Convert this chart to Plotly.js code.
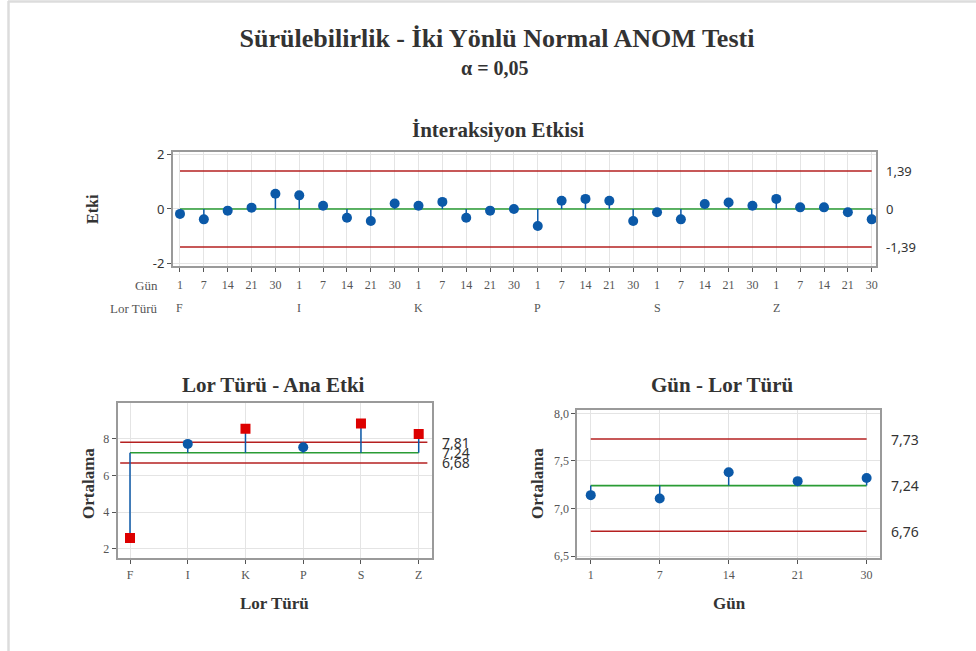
<!DOCTYPE html>
<html>
<head>
<meta charset="utf-8">
<script src="https://cdn.plot.ly/plotly-3.0.1.min.js"></script>
<style>
  html, body { margin: 0; padding: 0; background: #fff; }
  #chart { width: 976px; height: 651px; }
</style>
</head>
<body>
<div id="chart"></div>
<script>
// ---- data ----
const lorTypes = ['F', 'I', 'K', 'P', 'S', 'Z'];
const days = [1, 7, 14, 21, 30];

// interaction effects, ordered Lor Türü x Gün
const interactionF = [-0.18, -0.38, -0.06, 0.05, 0.56];
const interactionI = [0.50, 0.12, -0.32, -0.44, 0.20];
const interactionK = [0.12, 0.26, -0.32, -0.06, 0.00];
const interactionP = [-0.62, 0.30, 0.37, 0.30, -0.44];
const interactionS = [-0.12, -0.38, 0.18, 0.24, 0.12];
const interactionZ = [0.37, 0.06, 0.06, -0.12, -0.38];
const interactionLimits = [-1.39, 0, 1.39];

// Lor Türü main effect means and decision limits
const lorMeans = [2.60, 7.72, 8.55, 7.54, 8.83, 8.26];
const lorLimits = [6.68, 7.24, 7.81];

// Gün means and decision limits
const dayMeans = [7.14, 7.105, 7.38, 7.287, 7.32];
const dayLimits = [6.76, 7.24, 7.73];

// ---- styling ----
const W = 976, H = 651;
const SERIF = 'Liberation Serif, Times New Roman, serif';
const SANS = 'Noto Sans, DejaVu Sans, sans-serif';
const BLUE = '#0b59a8';
const RED_MARK = '#dd0000';
const RED_LINE = '#b52020';
const GREEN = '#2a9c35';
const FRAME = '#9a9a9a';
const GRID = '#e4e4e4';
const TXT = '#333333';
const TICK_TXT = '#555555';

const px = v => v / W;          // pixel -> paper x
const py = v => 1 - v / H;      // pixel -> paper y

const interaction = [interactionF, interactionI, interactionK, interactionP, interactionS, interactionZ].flat();
const idx = interaction.map((_, i) => i);
const dayLabels = lorTypes.flatMap(() => days.map(String));

function stems(xs, ys, base) {
  const sx = [], sy = [];
  xs.forEach((x, i) => { sx.push(x, x, null); sy.push(base, ys[i], null); });
  return { sx, sy };
}

function hline(xa, ya, x0, x1, y, color) {
  return {
    type: 'scatter', mode: 'lines', xaxis: xa, yaxis: ya,
    x: [x0, x1], y: [y, y], line: { color, width: 1.6 },
    hoverinfo: 'skip', showlegend: false
  };
}

const traces = [];

// top: interaction effect
const n = idx.length;
traces.push(hline('x', 'y', 0, n - 1, interactionLimits[2], RED_LINE));
traces.push(hline('x', 'y', 0, n - 1, interactionLimits[0], RED_LINE));
traces.push(hline('x', 'y', 0, n - 1, interactionLimits[1], GREEN));
const st1 = stems(idx, interaction, interactionLimits[1]);
traces.push({ type: 'scatter', mode: 'lines', xaxis: 'x', yaxis: 'y', x: st1.sx, y: st1.sy,
  line: { color: BLUE, width: 1.5 }, hoverinfo: 'skip', showlegend: false });
traces.push({ type: 'scatter', mode: 'markers', xaxis: 'x', yaxis: 'y', x: idx, y: interaction,
  marker: { color: BLUE, size: 10, symbol: 'circle' }, showlegend: false });

// bottom left: Lor Türü main effect
const li = lorTypes.map((_, i) => i);
traces.push(hline('x2', 'y2', -0.17, lorTypes.length - 1 + 0.15, lorLimits[2], RED_LINE));
traces.push(hline('x2', 'y2', -0.17, lorTypes.length - 1 + 0.15, lorLimits[0], RED_LINE));
traces.push(hline('x2', 'y2', 0, lorTypes.length - 1, lorLimits[1], GREEN));
const st2 = stems(li, lorMeans, lorLimits[1]);
traces.push({ type: 'scatter', mode: 'lines', xaxis: 'x2', yaxis: 'y2', x: st2.sx, y: st2.sy,
  line: { color: BLUE, width: 1.5 }, hoverinfo: 'skip', showlegend: false });
const outside = v => v > lorLimits[2] || v < lorLimits[0];
traces.push({ type: 'scatter', mode: 'markers', xaxis: 'x2', yaxis: 'y2',
  x: li, y: lorMeans,
  marker: {
    color: lorMeans.map(v => outside(v) ? RED_MARK : BLUE),
    symbol: lorMeans.map(v => outside(v) ? 'square' : 'circle'),
    size: 10
  }, showlegend: false });

// bottom right: Gün
const di = days.map((_, i) => i);
traces.push(hline('x3', 'y3', 0, days.length - 1, dayLimits[2], RED_LINE));
traces.push(hline('x3', 'y3', 0, days.length - 1, dayLimits[0], RED_LINE));
traces.push(hline('x3', 'y3', 0, days.length - 1, dayLimits[1], GREEN));
const st3 = stems(di, dayMeans, dayLimits[1]);
traces.push({ type: 'scatter', mode: 'lines', xaxis: 'x3', yaxis: 'y3', x: st3.sx, y: st3.sy,
  line: { color: BLUE, width: 1.5 }, hoverinfo: 'skip', showlegend: false });
traces.push({ type: 'scatter', mode: 'markers', xaxis: 'x3', yaxis: 'y3', x: di, y: dayMeans,
  marker: { color: BLUE, size: 10, symbol: 'circle' }, showlegend: false });

// ---- axes ----
const baseAxis = {
  showline: true, mirror: true, linecolor: FRAME, linewidth: 2,
  showgrid: true, gridcolor: GRID, gridwidth: 1, zeroline: false,
  ticks: 'outside', ticklen: 4, tickcolor: '#555', tickwidth: 1,
  fixedrange: true
};
const serifTicks = { family: SERIF, size: 12, color: TICK_TXT };

const layout = {
  width: W, height: H,
  margin: { l: 0, r: 0, t: 0, b: 0 },
  paper_bgcolor: '#fff', plot_bgcolor: '#fff',
  separators: ',.',
  showlegend: false,
  title: {
    text: 'Sürülebilirlik - İki Yönlü Normal ANOM Testi',
    font: { family: SERIF, size: 26, color: TXT, weight: 'bold' },
    x: px(497), xanchor: 'center', y: py(38), yanchor: 'middle', yref: 'paper'
  },
  xaxis: Object.assign({}, baseAxis, {
    domain: [px(173), px(876)], anchor: 'y',
    range: [-0.293, 29.18],
    tickvals: idx, ticktext: dayLabels, tickfont: serifTicks, tickangle: 0,
    ticklabelstandoff: 3
  }),
  yaxis: Object.assign({}, baseAxis, {
    domain: [py(265.5), py(151.5)], anchor: 'x',
    range: [-2.07, 2.106],
    tickvals: [-2, 0, 2], ticktext: ['-2', '0', '2'],
    tickfont: { family: SANS, size: 13, color: TXT }
  }),
  xaxis2: Object.assign({}, baseAxis, {
    domain: [px(117.7), px(431.7)], anchor: 'y2',
    range: [-0.213, 5.225],
    tickvals: li, ticktext: lorTypes, tickfont: serifTicks
  }),
  yaxis2: Object.assign({}, baseAxis, {
    domain: [py(558.3), py(403.3)], anchor: 'x2',
    range: [1.49, 9.93], tickvals: [2, 4, 6, 8], tickfont: serifTicks
  }),
  xaxis3: Object.assign({}, baseAxis, {
    domain: [px(577.3), px(880)], anchor: 'y3',
    range: [-0.195, 4.194],
    tickvals: di, ticktext: days.map(String), tickfont: serifTicks
  }),
  yaxis3: Object.assign({}, baseAxis, {
    domain: [py(558.3), py(410)], anchor: 'x3',
    range: [6.476, 8.035], tickvals: [6.5, 7, 7.5, 8], tickformat: '.1f', tickfont: serifTicks
  }),
  shapes: [
    // page frame
    { type: 'line', xref: 'paper', yref: 'paper', x0: px(8.5), x1: px(8.5), y0: py(1), y1: 0,
      line: { color: '#dcdcdc', width: 2.5 } },
    { type: 'line', xref: 'paper', yref: 'paper', x0: px(8), x1: 1, y0: py(1.5), y1: py(1.5),
      line: { color: '#dcdcdc', width: 2.5 } }
  ],
  annotations: []
};

const ann = layout.annotations;
function label(text, x, y, opts) {
  ann.push(Object.assign({
    text, x, y, xref: 'paper', yref: 'paper', showarrow: false,
    xanchor: 'center', yanchor: 'middle',
    font: { family: SERIF, size: 16, color: TXT, weight: 'bold' }
  }, opts || {}));
}
const bold = size => ({ family: SERIF, size, color: TXT, weight: 'bold' });

label('α = 0,05', px(495), py(68), { font: bold(20) });
label('İnteraksiyon Etkisi', px(498), py(130), { font: bold(21) });
label('Etki', px(92), py(209), { textangle: -90, font: bold(16) });

// category rows under the interaction plot
label('Gün', px(160), py(285), { xanchor: 'right', font: { family: SERIF, size: 13, color: TICK_TXT } });
label('Lor Türü', px(160), py(308), { xanchor: 'right', font: { family: SERIF, size: 13, color: TICK_TXT } });
lorTypes.forEach((t, g) => {
  ann.push({ text: t, x: g * days.length, y: py(308), xref: 'x', yref: 'paper',
    showarrow: false, xanchor: 'center', yanchor: 'middle', font: serifTicks });
});

// decision limit values at the right of each plot
function limitLabels(vals, xPix, yref, size) {
  vals.forEach(v => {
    const s = v === 0 ? '0' : v.toFixed(2).replace('.', ',');
    ann.push({ text: s, x: px(xPix), y: v, xref: 'paper', yref, showarrow: false,
      xanchor: 'left', yanchor: 'middle', font: { family: SANS, size, color: TXT } });
  });
}
limitLabels(interactionLimits, 884, 'y', 13);
limitLabels(lorLimits, 440, 'y2', 14);
limitLabels(dayLimits, 889, 'y3', 14);

// bottom titles
label('Lor Türü - Ana Etki', px(273), py(385), { font: bold(21) });
label('Lor Türü', px(274), py(603), { font: bold(17) });
label('Ortalama', px(88), py(484), { textangle: -90, font: bold(17) });

label('Gün - Lor Türü', px(722), py(385), { font: bold(21) });
label('Gün', px(729), py(603), { font: bold(17) });
label('Ortalama', px(537), py(484), { textangle: -90, font: bold(17) });

Plotly.newPlot('chart', traces, layout, { displayModeBar: false, staticPlot: true });
</script>
</body>
</html>
